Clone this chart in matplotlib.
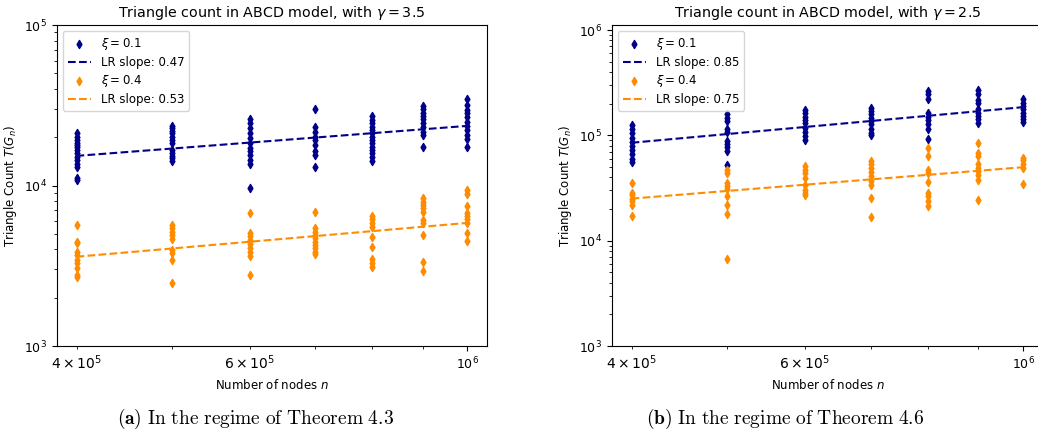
import matplotlib
matplotlib.use("Agg")
import matplotlib.pyplot as plt
import numpy as np

# number of nodes used in the experiments
n_nodes = [4e5, 5e5, 6e5, 7e5, 8e5, 9e5, 1e6]

# triangle counts, one list per n
tri_g35_xi01 = [
    [21100, 20100, 19200, 18500, 17900, 17300, 16600, 15900, 15100, 14400, 13700, 13000, 11200, 10800],
    [23500, 22700, 21900, 21100, 20100, 19200, 18300, 16600, 15900, 15300, 14800, 14300],
    [25800, 24400, 22700, 21100, 19700, 18300, 17100, 16300, 15500, 14400, 13600, 9620],
    [29900, 23300, 21600, 20100, 19200, 17900, 16300, 15500, 13100],
    [27100, 25600, 24400, 23300, 22200, 21100, 20100, 19200, 18300, 17500, 16600, 15900, 15100, 14300],
    [31300, 29900, 28400, 27100, 25800, 24400, 23300, 21600, 20600, 17300],
    [34400, 31800, 29500, 28200, 26900, 25000, 23500, 22200, 20600, 19400, 17300],
]
tri_g35_xi04 = [
    [5680, 4470, 4360, 3870, 3690, 3430, 3280, 3050, 2770, 2680],
    [5680, 5410, 5150, 4920, 4630, 3960, 3780, 3430, 2480],
    [6770, 5080, 4840, 4580, 4300, 4060, 3870, 3640, 2770],
    [6870, 5410, 5150, 4920, 4690, 4470, 4260, 4060, 3870, 3740],
    [6460, 6150, 5860, 5530, 4800, 4160, 3470, 3280, 3090],
    [8320, 7930, 7560, 7210, 6870, 6100, 5810, 4920, 3350, 2940],
    [9370, 8850, 7450, 6710, 6460, 6150, 5860, 5080, 4530],
]
tri_g25_xi01 = [
    [124500, 114000, 104500, 95000, 86300, 79000, 72400, 65900, 60000, 55700],
    [158500, 147500, 136900, 115800, 107400, 88300, 82000, 76800, 70800, 52600],
    [174000, 162000, 150700, 139900, 130000, 118300, 107400, 98400, 90100],
    [183700, 170400, 158500, 147500, 136900, 127300, 115800, 106100, 100000],
    [264000, 245500, 220300, 164400, 150700, 139900, 127300, 115800, 93100],
    [270000, 245500, 216700, 201600, 177100, 164400, 152700, 141800, 132100],
    [220300, 204800, 190000, 177100, 164400, 152700, 141800, 134000],
]
tri_g25_xi04 = [
    [35500, 28400, 27000, 25100, 23700, 22000, 17000],
    [47400, 44100, 35500, 33400, 31300, 26800, 22000, 17900, 6750],
    [51000, 47400, 44100, 39500, 34100, 30600, 28400, 27000],
    [56900, 53000, 49200, 45100, 40900, 36700, 33700, 25500, 16700],
    [76400, 63500, 47400, 44100, 36200, 28400, 26400, 23700, 21200],
    [85100, 68400, 63500, 53000, 49200, 45700, 41900, 38100, 24500],
    [61400, 57800, 53700, 49200, 34700],
]

# linear regression (log-log): slope and fitted value at n = 4e5
lr_g35 = {"xi01": (0.47, 15300), "xi04": (0.53, 3600)}
lr_g25 = {"xi01": (0.85, 85100), "xi04": (0.75, 25100)}

BLUE = "darkblue"
ORANGE = "darkorange"


def draw_panel(ax, gamma, tri_01, tri_04, lr, ylim):
    x = np.array(n_nodes)
    for label, tri, col, key in [(r"$\xi = 0.1$", tri_01, BLUE, "xi01"),
                                 (r"$\xi = 0.4$", tri_04, ORANGE, "xi04")]:
        xs = np.concatenate([[n] * len(v) for n, v in zip(n_nodes, tri)])
        ys = np.concatenate(tri)
        ax.scatter(xs, ys, marker="d", s=17, color=col, label=label, zorder=3)
        slope, y0 = lr[key]
        ax.plot(x, y0 * (x / x[0]) ** slope, "--", color=col, lw=1.5,
                label=f"LR slope: {slope:.2f}", zorder=4)
    ax.set_xscale("log")
    ax.set_yscale("log")
    ax.set_ylim(*ylim)
    ax.set_title(rf"Triangle count in ABCD model, with $\gamma = {gamma}$", fontsize=10.3)
    ax.set_xlabel(r"Number of nodes $n$", fontsize=8.5)
    ax.set_ylabel(r"Triangle Count $T(G_n)$", fontsize=8.5)
    ax.tick_params(labelsize=9)
    ax.legend(loc="upper left", fontsize=8.5, labelspacing=0.35)


fig = plt.figure(figsize=(10.38, 4.40), dpi=100)
ax1 = fig.add_axes([0.0549, 0.2136, 0.4143, 0.7295])
ax2 = fig.add_axes([0.5896, 0.2136, 0.4152, 0.7295])

draw_panel(ax1, 3.5, tri_g35_xi01, tri_g35_xi04, lr_g35, (1e3, 1e5))
draw_panel(ax2, 2.5, tri_g25_xi01, tri_g25_xi04, lr_g25, (1e3, 1.116e6))

fig.text(0.246, 0.048, r"$\mathbf{(a)}\ \mathrm{In\ the\ regime\ of\ Theorem\ 4.3}$",
         ha="center", va="center", fontsize=14, math_fontfamily="cm")
fig.text(0.756, 0.048, r"$\mathbf{(b)}\ \mathrm{In\ the\ regime\ of\ Theorem\ 4.6}$",
         ha="center", va="center", fontsize=14, math_fontfamily="cm")

fig.savefig("out.png", dpi=100)
